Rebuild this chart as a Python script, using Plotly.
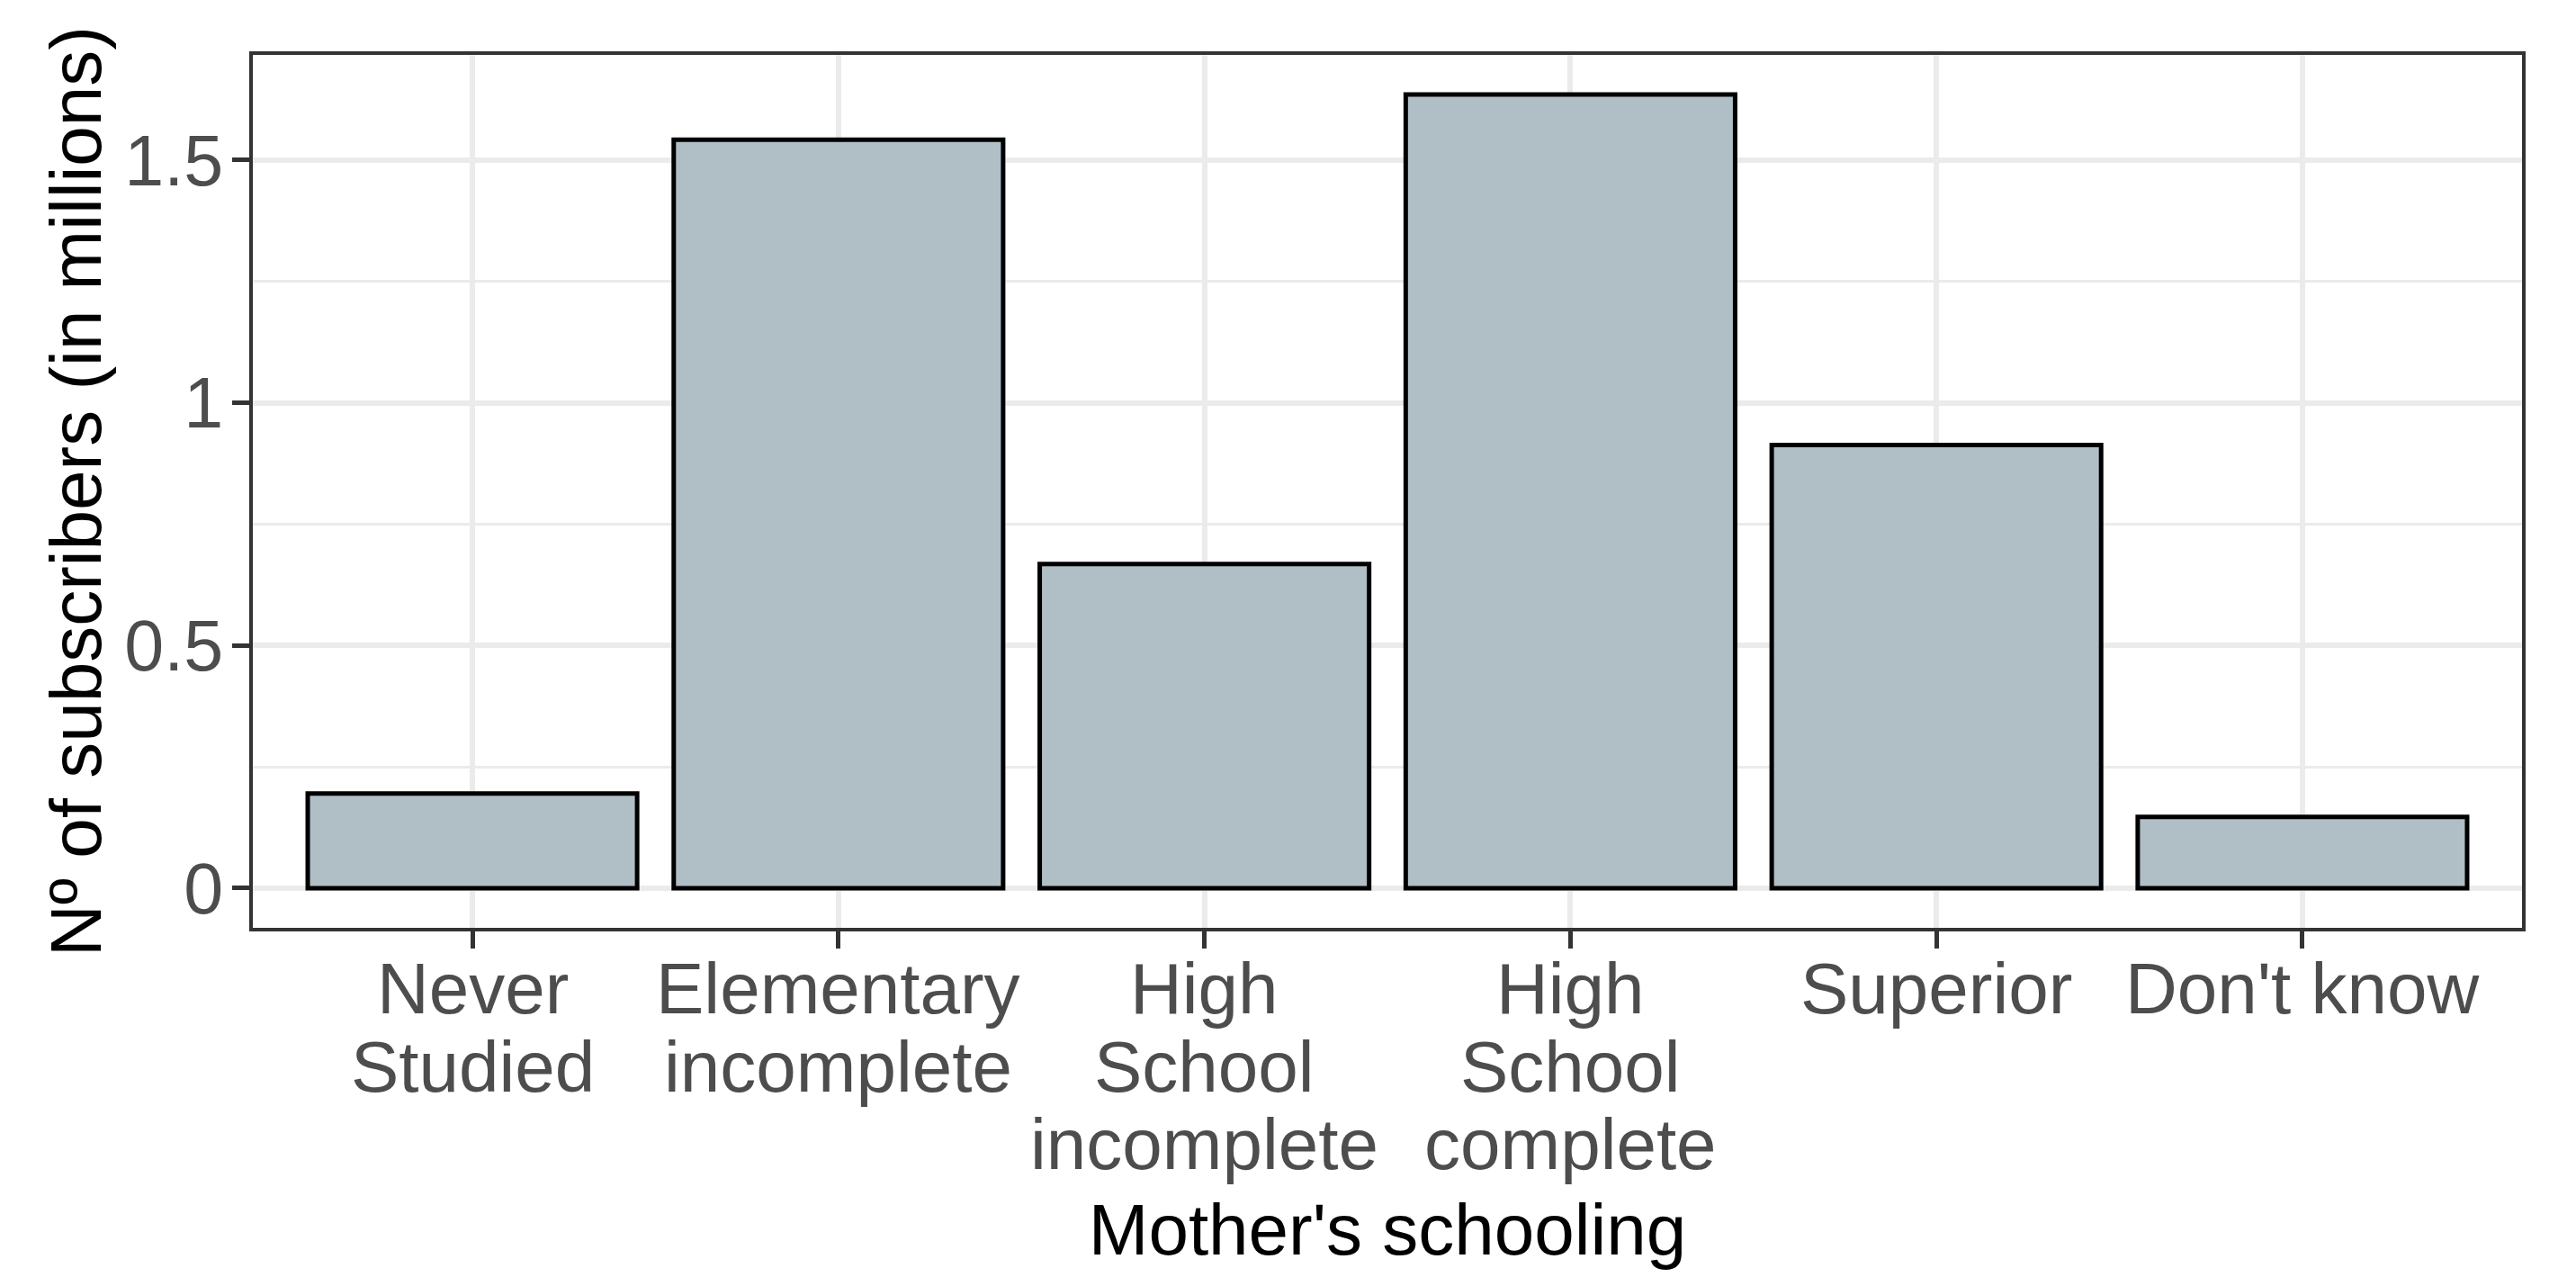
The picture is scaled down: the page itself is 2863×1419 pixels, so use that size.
import plotly.graph_objects as go

categories = ["Never Studied", "Elementary incomplete", "High School incomplete",
              "High School complete", "Superior", "Don't know"]
tick_labels = ["Never<br>Studied", "Elementary<br>incomplete", "High<br>School<br>incomplete",
               "High<br>School<br>complete", "Superior", "Don't know"]
subscribers_millions = [0.195, 1.542, 0.668, 1.635, 0.913, 0.147]
y_tick_vals = [0, 0.5, 1, 1.5]
y_tick_text = ["0", "0.5", "1", "1.5"]

FONT = "Liberation Sans, Arial, sans-serif"
TICK_COLOR = "#4D4D4D"
GRID = "#EBEBEB"
BORDER = "#333333"
LABEL_SIZE = 80
LINE_STEP = 86.5

x_pos = list(range(len(categories)))

fig = go.Figure(
    go.Bar(
        x=x_pos,
        y=subscribers_millions,
        width=0.9,
        marker=dict(color="#B0BEC5", line=dict(color="black", width=5)),
        hovertext=categories,
    )
)

# x tick labels: one text per line so the line spacing matches the original
annotations = []
for xi, label in zip(x_pos, tick_labels):
    for li, line in enumerate(label.split("<br>")):
        annotations.append(dict(
            x=xi, xref="x", y=0, yref="paper",
            text=line, showarrow=False,
            xanchor="center", yanchor="top",
            yshift=-(21 + li * LINE_STEP),
            font=dict(family=FONT, size=LABEL_SIZE, color=TICK_COLOR),
        ))

ymax = max(subscribers_millions)
pad = 0.05 * ymax

fig.update_layout(
    width=2855,
    height=1411,
    margin=dict(l=273, r=60, t=53, b=388),
    paper_bgcolor="white",
    plot_bgcolor="white",
    showlegend=False,
    font=dict(family=FONT, size=79, color=TICK_COLOR),
    annotations=annotations,
)

fig.update_xaxes(
    range=[-0.6, len(categories) - 0.4],
    tickmode="array",
    tickvals=x_pos,
    showticklabels=False,
    ticks="outside",
    ticklen=19,
    tickwidth=5,
    tickcolor=BORDER,
    showgrid=True,
    gridcolor=GRID,
    gridwidth=5.5,
    showline=True,
    linecolor=BORDER,
    linewidth=4,
    mirror=True,
    zeroline=False,
    automargin=False,
    title=dict(text="Mother's schooling", font=dict(family=FONT, size=80, color="black"), standoff=286),
)

fig.update_yaxes(
    range=[-pad, ymax + pad],
    tickmode="array",
    tickvals=y_tick_vals,
    ticktext=y_tick_text,
    ticks="outside",
    ticklen=19,
    tickwidth=5,
    tickcolor=BORDER,
    tickfont=dict(family=FONT, size=79, color=TICK_COLOR),
    ticklabelstandoff=-6,
    showgrid=True,
    gridcolor=GRID,
    gridwidth=5.5,
    minor=dict(tickvals=[0.25, 0.75, 1.25], showgrid=True, gridcolor=GRID, gridwidth=2.5, ticks=""),
    showline=True,
    linecolor=BORDER,
    linewidth=4,
    mirror=True,
    zeroline=False,
    automargin=False,
    title=dict(text="Nº of subscribers (in millions)", font=dict(family=FONT, size=80, color="black"), standoff=0),
)

fig.write_html("out.html")
